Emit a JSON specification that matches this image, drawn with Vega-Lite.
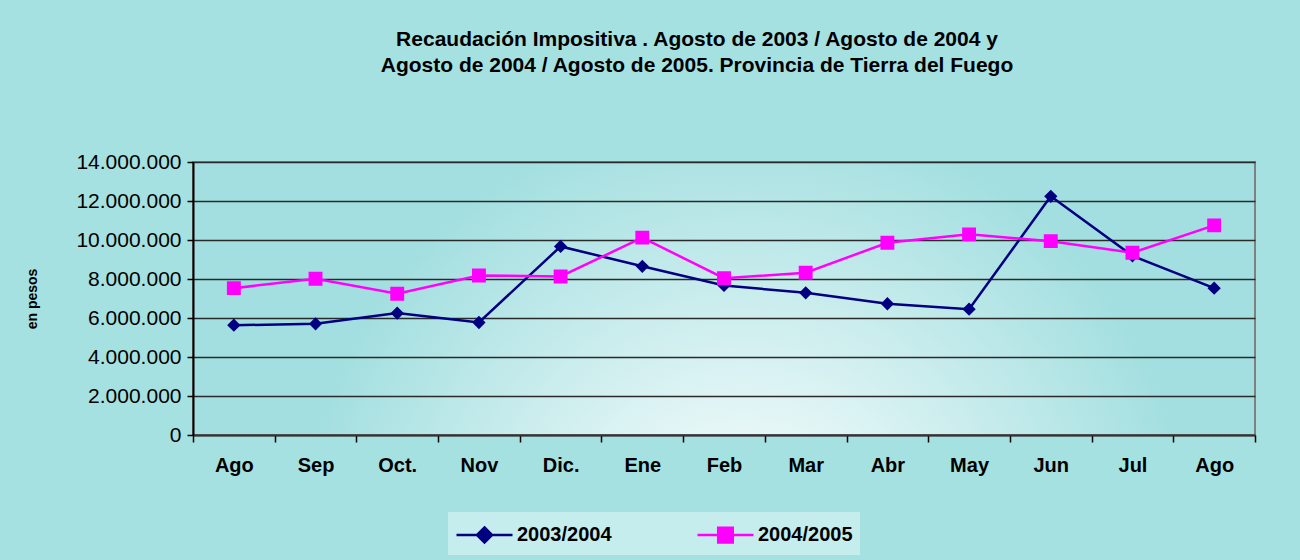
{
  "$schema": "https://vega.github.io/schema/vega-lite/v6.json",
  "autosize": {"type": "none"},
  "width": 1062,
  "height": 273,
  "padding": {"left": 193, "top": 162, "right": 45, "bottom": 125},
  "background": "#a6e1e1",
  "title": {
    "text": ["Recaudación Impositiva . Agosto de 2003 / Agosto de 2004 y", "Agosto de 2004 / Agosto de 2005. Provincia de Tierra del Fuego"],
    "font": "Liberation Sans",
    "fontSize": 21,
    "fontWeight": "bold",
    "color": "#000000",
    "anchor": "middle",
    "dx": -27,
    "lineHeight": 26,
    "offset": 75
  },
  "config": {
    "view": {
      "stroke": "#808080",
      "strokeWidth": 2,
      "fill": {
        "gradient": "radial",
        "x1": 0.52, "y1": 0.74, "r1": 0,
        "x2": 0.52, "y2": 0.74, "r2": 0.42,
        "stops": [
          {"offset": 0, "color": "#ffffff"},
          {"offset": 1, "color": "#a3dfe0"}
        ]
      }
    },
    "font": "Liberation Sans",
    "legend": {
      "title": null,
      "direction": "horizontal",
      "fillColor": "#c6eded",
      "padding": 7,
      "columnPadding": 80,
      "labelFont": "Liberation Sans",
      "labelFontSize": 20,
      "labelFontWeight": "bold",
      "labelColor": "#000000",
      "labelOffset": 17,
      "symbolOffset": 14,
      "symbolSize": 784,
      "symbolStrokeWidth": 2.5,
      "symbolOpacity": 1
    }
  },
  "data": {
    "values": [
      {"i": 0, "serie": "2003/2004", "valor": 5630000},
      {"i": 1, "serie": "2003/2004", "valor": 5700000},
      {"i": 2, "serie": "2003/2004", "valor": 6250000},
      {"i": 3, "serie": "2003/2004", "valor": 5770000},
      {"i": 4, "serie": "2003/2004", "valor": 9670000},
      {"i": 5, "serie": "2003/2004", "valor": 8650000},
      {"i": 6, "serie": "2003/2004", "valor": 7670000},
      {"i": 7, "serie": "2003/2004", "valor": 7290000},
      {"i": 8, "serie": "2003/2004", "valor": 6730000},
      {"i": 9, "serie": "2003/2004", "valor": 6450000},
      {"i": 10, "serie": "2003/2004", "valor": 12240000},
      {"i": 11, "serie": "2003/2004", "valor": 9190000},
      {"i": 12, "serie": "2003/2004", "valor": 7530000},
      {"i": 0, "serie": "2004/2005", "valor": 7530000},
      {"i": 1, "serie": "2004/2005", "valor": 8010000},
      {"i": 2, "serie": "2004/2005", "valor": 7240000},
      {"i": 3, "serie": "2004/2005", "valor": 8180000},
      {"i": 4, "serie": "2004/2005", "valor": 8130000},
      {"i": 5, "serie": "2004/2005", "valor": 10120000},
      {"i": 6, "serie": "2004/2005", "valor": 8040000},
      {"i": 7, "serie": "2004/2005", "valor": 8320000},
      {"i": 8, "serie": "2004/2005", "valor": 9860000},
      {"i": 9, "serie": "2004/2005", "valor": 10290000},
      {"i": 10, "serie": "2004/2005", "valor": 9940000},
      {"i": 11, "serie": "2004/2005", "valor": 9350000},
      {"i": 12, "serie": "2004/2005", "valor": 10750000}
    ]
  },
  "encoding": {
    "x": {
      "field": "i",
      "type": "ordinal",
      "bandPosition": 0.5,
      "scale": {"type": "band", "paddingInner": 0, "paddingOuter": 0},
      "axis": {
        "title": null,
        "labelAngle": 0,
        "labelExpr": "['Ago','Sep','Oct.','Nov','Dic.','Ene','Feb','Mar','Abr','May','Jun','Jul','Ago'][datum.value]",
        "labelFont": "Liberation Sans",
        "labelFontSize": 20,
        "labelFontWeight": "bold",
        "labelColor": "#000000",
        "labelPadding": 13,
        "tickBand": "extent",
        "tickSize": 7,
        "tickColor": "#000000",
        "tickWidth": 1.5,
        "domainColor": "#333333",
        "domainWidth": 2,
        "grid": false
      }
    },
    "y": {
      "field": "valor",
      "type": "quantitative",
      "scale": {"domain": [0, 14000000], "nice": false},
      "axis": {
        "title": "en pesos",
        "titleFont": "Liberation Sans",
        "titleFontSize": 14,
        "titleFontWeight": "bold",
        "titleColor": "#000000",
        "titlePadding": 36,
        "values": [0, 2000000, 4000000, 6000000, 8000000, 10000000, 12000000, 14000000],
        "labelExpr": "replace(format(datum.value, ','), regexp(',', 'g'), '.')",
        "labelFont": "Liberation Sans",
        "labelFontSize": 21,
        "labelColor": "#000000",
        "labelPadding": 6,
        "tickSize": 6,
        "tickColor": "#000000",
        "tickWidth": 1.5,
        "domainColor": "#000000",
        "domainWidth": 2,
        "grid": true,
        "gridColor": "#2a2a2a",
        "gridWidth": 1.5
      }
    },
    "stroke": {
      "field": "serie",
      "type": "nominal",
      "scale": {"domain": ["2003/2004", "2004/2005"], "range": ["#000080", "#ff00ff"]},
      "legend": {"orient": "none", "legendX": 255, "legendY": 350, "title": null}
    }
  },
  "layer": [
    {"mark": {"type": "line", "strokeWidth": 2.5}},
    {
      "mark": {"type": "point", "opacity": 0, "strokeWidth": 2.5},
      "encoding": {
        "shape": {
          "field": "serie",
          "type": "nominal",
          "scale": {"domain": ["2003/2004", "2004/2005"], "range": ["M-2,0H2M0,-0.54L0.54,0L0,0.54L-0.54,0Z", "M-2,0H2M-0.52,-0.52H0.52V0.52H-0.52Z"]},
          "legend": {"orient": "none", "legendX": 255, "legendY": 350, "title": null}
        }
      }
    },
    {
      "transform": [{"filter": "datum.serie === '2003/2004'"}],
      "mark": {"type": "point", "filled": true, "opacity": 1, "shape": "diamond", "size": 95, "strokeWidth": 2.5},
      "encoding": {
        "fill": {
          "field": "serie",
          "type": "nominal",
          "scale": {"domain": ["2003/2004", "2004/2005"], "range": ["#000080", "#ff00ff"]},
          "legend": {"orient": "none", "legendX": 255, "legendY": 350, "title": null}
        }
      }
    },
    {
      "transform": [{"filter": "datum.serie === '2004/2005'"}],
      "mark": {"type": "point", "filled": true, "opacity": 1, "shape": "square", "size": 130, "strokeWidth": 2.5},
      "encoding": {
        "fill": {
          "field": "serie",
          "type": "nominal",
          "scale": {"domain": ["2003/2004", "2004/2005"], "range": ["#000080", "#ff00ff"]},
          "legend": {"orient": "none", "legendX": 255, "legendY": 350, "title": null}
        }
      }
    }
  ]
}
